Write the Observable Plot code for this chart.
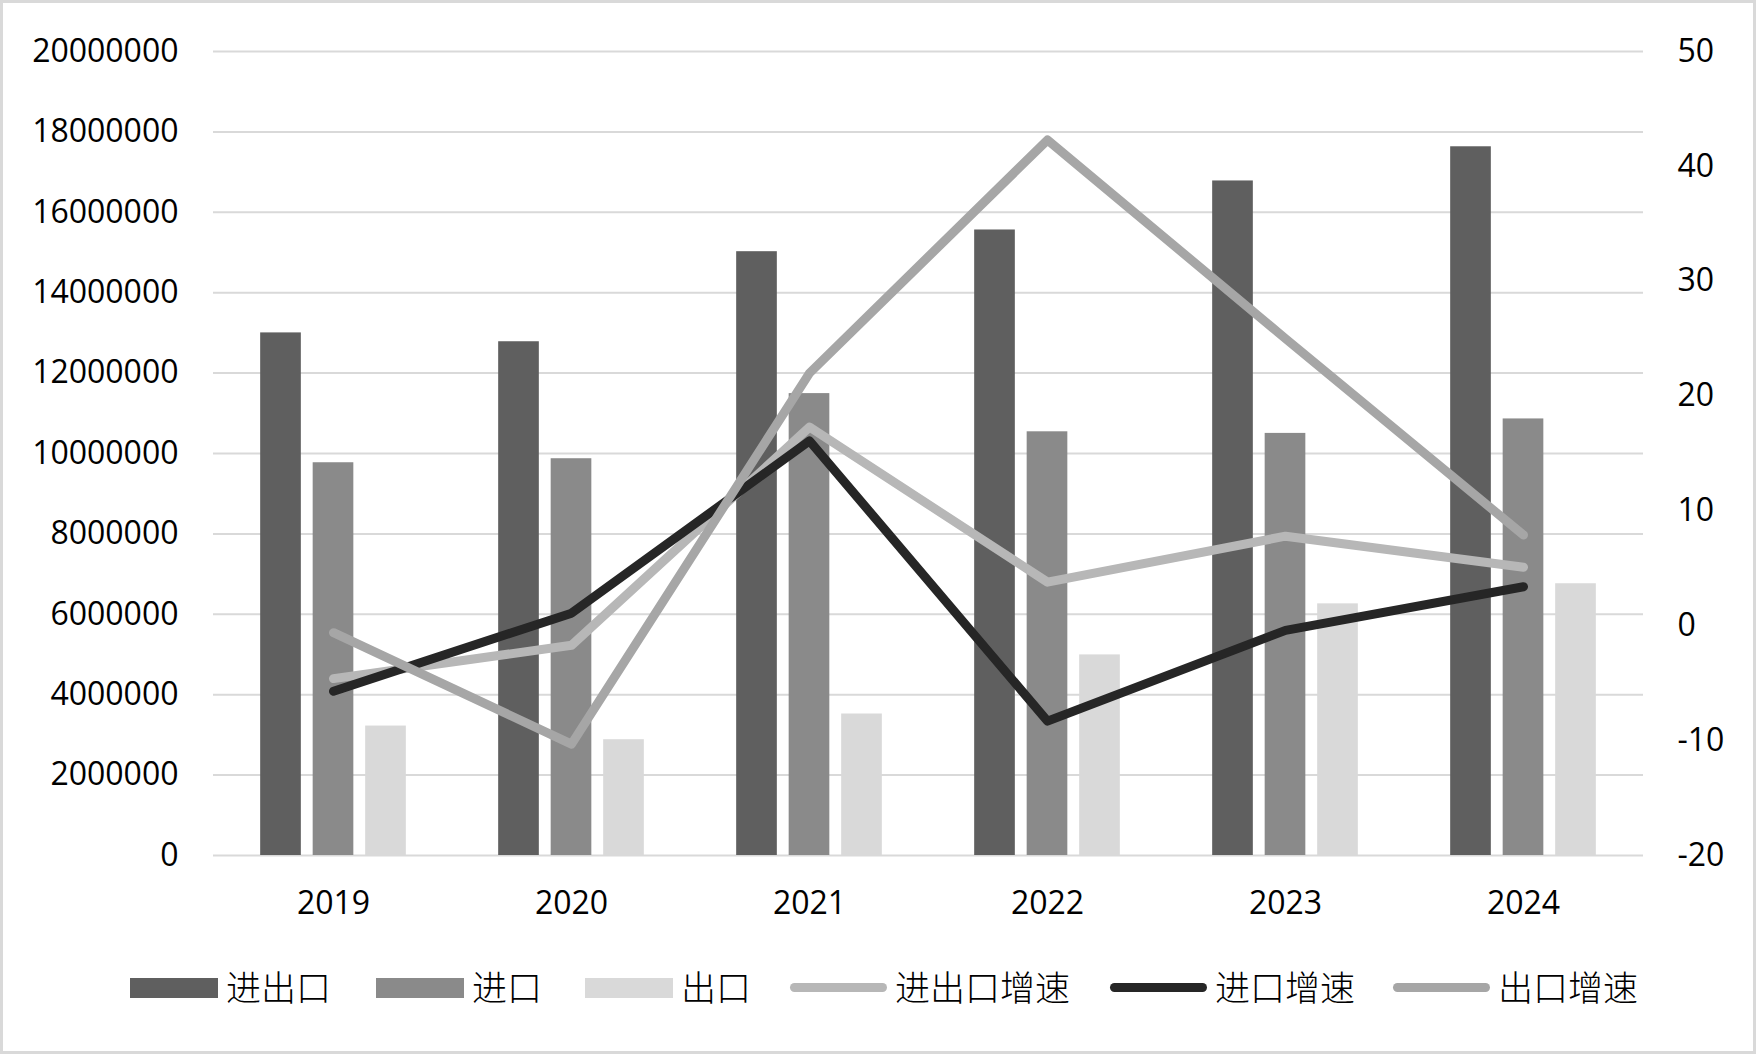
<!DOCTYPE html>
<html><head><meta charset="utf-8">
<script src="https://cdn.jsdelivr.net/npm/d3@7"></script>
<script src="https://cdn.jsdelivr.net/npm/@observablehq/plot@0.6"></script>
<style>
html,body{margin:0;padding:0;background:#fff;}
#frame{position:relative;width:1756px;height:1054px;box-sizing:border-box;border:3px solid #d9d9d9;background:#fff;overflow:hidden;}
#chart{position:absolute;left:0;top:0;}
#legend{position:absolute;left:0;top:958px;width:1750px;height:50px;font-family:"Noto Sans CJK SC",sans-serif;font-weight:300;font-size:35px;line-height:50px;color:#000;}
.item{position:absolute;top:0;display:flex;align-items:center;gap:8px;white-space:nowrap;}
.rect{width:88px;height:20px;margin-top:3px;}
.line{width:97px;height:9px;border-radius:5px;margin-top:3px;}
</style></head><body>
<div id="frame"><div id="chart"></div><div id="legend"></div></div>
<script>
// ---- data ----
const years = ["2019", "2020", "2021", "2022", "2023", "2024"];
const totalTrade = [13000000, 12780000, 15020000, 15560000, 16780000, 17630000]; // 进出口
const imports = [9770000, 9870000, 11490000, 10540000, 10500000, 10860000];     // 进口
const exports = [3220000, 2880000, 3520000, 4990000, 6260000, 6760000];          // 出口
const totalGrowth = [-4.6, -1.7, 17.3, 3.8, 7.8, 5.1];     // 进出口增速
const importGrowth = [-5.7, 1.1, 16.1, -8.3, -0.4, 3.4];   // 进口增速
const exportGrowth = [-0.6, -10.3, 22.0, 42.3, 25.0, 7.9]; // 出口增速
const leftTicks = [0, 2000000, 4000000, 6000000, 8000000, 10000000, 12000000, 14000000, 16000000, 18000000, 20000000];
const rightTicks = [-20, -10, 0, 10, 20, 30, 40, 50];

const barSeries = [
  {name: "进出口", values: totalTrade, color: "#5f5f5f"},
  {name: "进口", values: imports, color: "#8a8a8a"},
  {name: "出口", values: exports, color: "#d9d9d9"}
];
const lineSeries = [
  {name: "进出口增速", values: totalGrowth, color: "#b7b7b7"},
  {name: "进口增速", values: importGrowth, color: "#262626"},
  {name: "出口增速", values: exportGrowth, color: "#a6a6a6"}
];
// legend item left edges (layout only)
const legendLeft = [127, 373, 582, 787, 1107, 1390];

// right axis (-20..50) mapped onto the left scale (0..20,000,000)
const leftMax = 20000000, rMin = -20, rMax = 50;
const toLeft = v => (v - rMin) / (rMax - rMin) * leftMax;
const fromLeft = d => Math.round(d / leftMax * (rMax - rMin) + rMin);

const W = 1750, H = 940, mL = 210, mR = 110, mT = 48, mB = 88;
const bw = (W - mL - mR) / years.length;
const barW = 41, step = 52.5;

const marks = [
  Plot.gridY(leftTicks, {stroke: "#d9d9d9", strokeOpacity: 1, strokeWidth: 2})
];
barSeries.forEach((s, i) => {
  const o = (i - 1) * step;
  const rows = years.map((y, j) => ({year: y, v: s.values[j]}));
  marks.push(Plot.barY(rows, {x: "year", y: "v", fill: s.color,
    insetLeft: bw / 2 + o - barW / 2, insetRight: bw / 2 - o - barW / 2}));
});
lineSeries.forEach(s => {
  const rows = years.map((y, j) => ({year: y, v: toLeft(s.values[j])}));
  marks.push(Plot.line(rows, {x: "year", y: "v", stroke: s.color, strokeWidth: 9,
    strokeLinejoin: "round", strokeLinecap: "round"}));
});
marks.push(
  Plot.axisY(leftTicks, {anchor: "left", tickSize: 0, tickPadding: 35, fontSize: 32, label: null, tickFormat: d => String(d)}),
  Plot.axisY(rightTicks.map(toLeft), {anchor: "right", tickSize: 0, tickPadding: 34, fontSize: 32, label: null, tickFormat: fromLeft}),
  Plot.axisX({tickSize: 0, tickPadding: 36, fontSize: 32, label: null})
);

const chart = Plot.plot({
  width: W, height: H,
  marginLeft: mL, marginRight: mR, marginTop: mT, marginBottom: mB,
  style: {fontFamily: "'Open Sans', sans-serif", color: "#000", background: "#fff"},
  x: {type: "band", domain: years, padding: 0, label: null},
  y: {domain: [0, leftMax], label: null},
  marks
});
document.getElementById("chart").appendChild(chart);

// legend
const legend = document.getElementById("legend");
[...barSeries.map(s => ({...s, kind: "rect"})), ...lineSeries.map(s => ({...s, kind: "line"}))].forEach((s, i) => {
  const it = document.createElement("div"); it.className = "item";
  it.style.left = legendLeft[i] + "px";
  it.innerHTML = `<div class="${s.kind}" style="background:${s.color}"></div><span>${s.name}</span>`;
  legend.appendChild(it);
});
</script>
</body></html>
